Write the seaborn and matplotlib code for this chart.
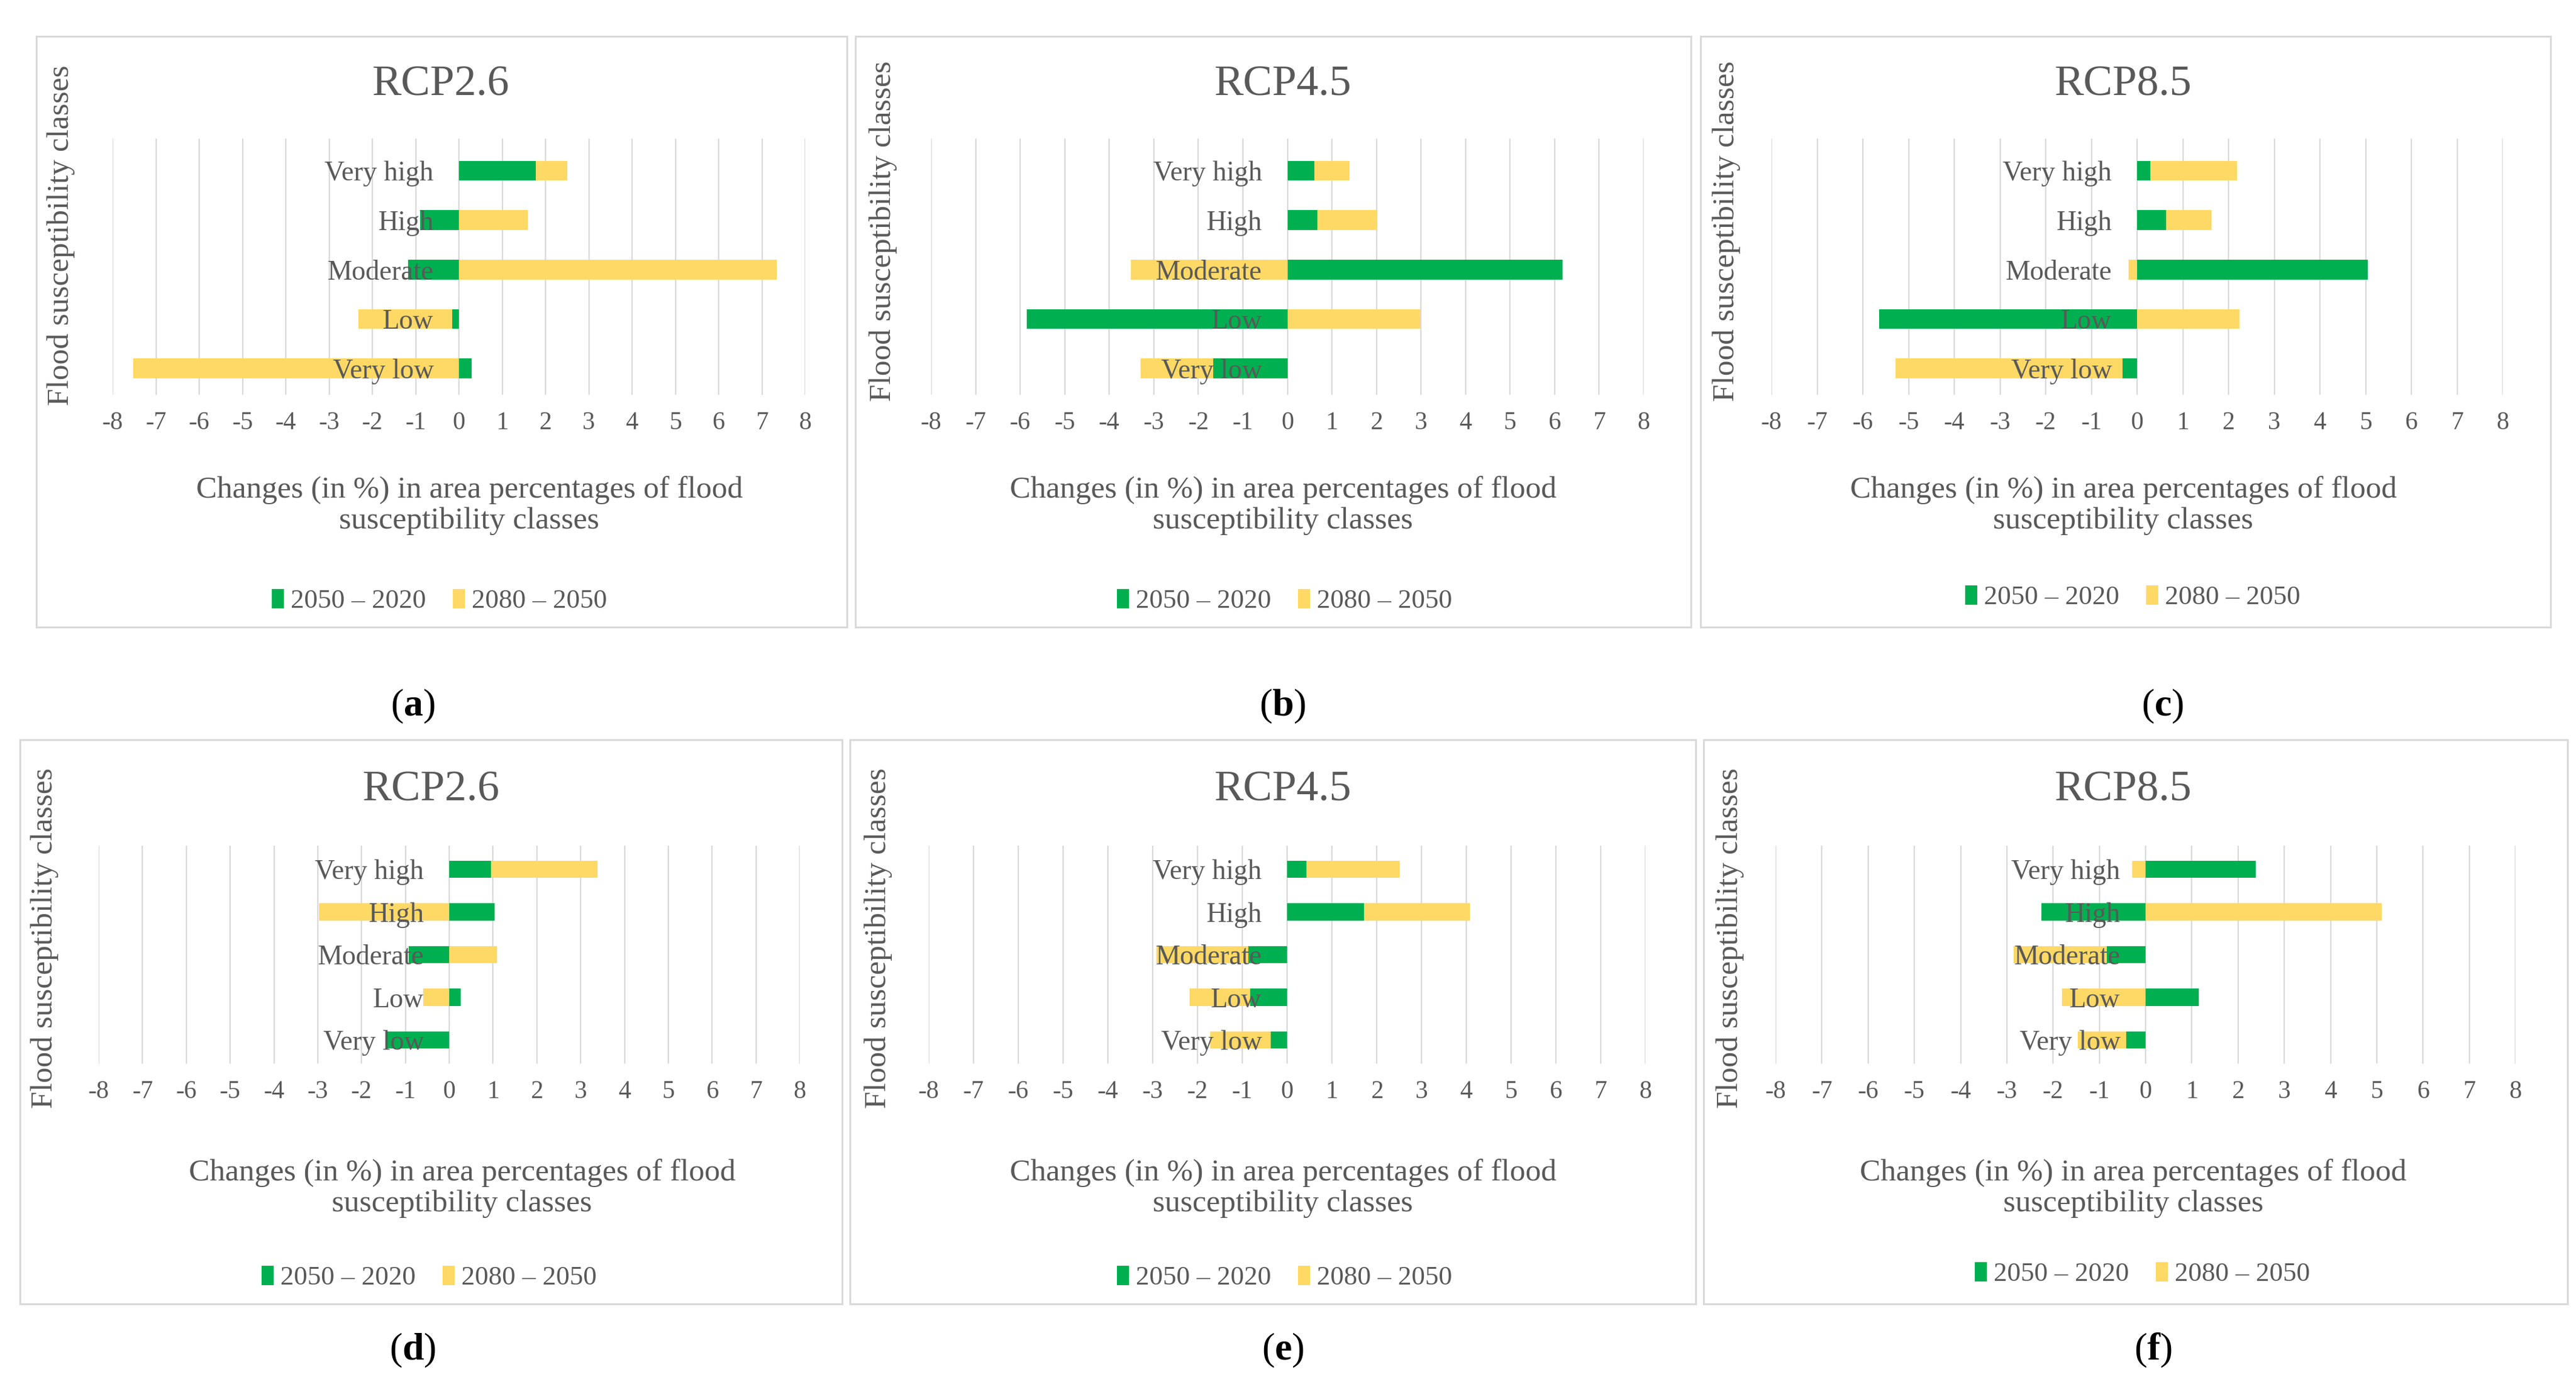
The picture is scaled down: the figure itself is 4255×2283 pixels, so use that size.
import numpy as np
import pandas as pd
import matplotlib
matplotlib.use("Agg")
import matplotlib.pyplot as plt
from matplotlib.patches import Rectangle, Patch
import seaborn as sns

# ---------------- data ----------------
classes = ["Very high", "High", "Moderate", "Low", "Very low"]
series_names = ["2050 – 2020", "2080 – 2050"]
titles = ["RCP2.6", "RCP4.5", "RCP8.5", "RCP2.6", "RCP4.5", "RCP8.5"]
panel_letters = ["a", "b", "c", "d", "e", "f"]
x_ticks = list(range(-8, 9))
x_label = "Changes (in %) in area percentages of flood\nsusceptibility classes"
y_label = "Flood susceptibility classes"

a_2050 = [1.78, -0.89, -1.17, -0.15, 0.29]
a_2080 = [0.73, 1.60, 7.34, -2.17, -7.52]
b_2050 = [0.61, 0.67, 6.18, -5.85, -1.67]
b_2080 = [0.79, 1.33, -3.52, 2.98, -1.63]
c_2050 = [0.29, 0.63, 5.05, -5.64, -0.32]
c_2080 = [1.90, 1.00, -0.19, 2.24, -4.97]
d_2050 = [0.96, 1.04, -0.92, 0.26, -1.41]
d_2080 = [2.43, -2.97, 1.09, -0.60, 0.00]
e_2050 = [0.43, 1.72, -0.86, -0.82, -0.37]
e_2080 = [2.09, 2.36, -2.06, -1.35, -1.34]
f_2050 = [2.38, -2.25, -0.84, 1.15, -0.42]
f_2080 = [-0.29, 5.10, -2.02, -1.81, -1.05]

green_vals = [a_2050, b_2050, c_2050, d_2050, e_2050, f_2050]
yellow_vals = [a_2080, b_2080, c_2080, d_2080, e_2080, f_2080]

# ---------------- style ----------------
GREEN = "#00B050"
YELLOW = "#FFD966"
TEXT = "#595959"
GRID = "#D9D9D9"

sns.set_style("white")
plt.rcParams["font.family"] = ["Liberation Serif", "DejaVu Serif"]
plt.rcParams["mathtext.fontset"] = "custom"
plt.rcParams["mathtext.rm"] = "Liberation Serif"
plt.rcParams["mathtext.bf"] = "Liberation Serif:bold"

W, H = 4255, 2283
fig = plt.figure(figsize=(W / 100, H / 100), dpi=100)
fig.patch.set_facecolor("white")

def fx(px):
    return px / W

def fy(py):
    return 1 - py / H

TOP = dict(yt=229, yb=652, lim=(4.53, -0.65))
BOT = dict(yt=1397, yb=1757, lim=(4.55, -0.55))

layout = [
    dict(x0=186, x1=1330, box=(60, 60, 1399, 1036), title=(728, 140),
         xl=(775, 835), leg=(726, 993), yl=(101, 389), letter=(682, 1167), **TOP),
    dict(x0=1538, x1=2715, box=(1413, 60, 2793, 1036), title=(2119, 140),
         xl=(2119, 835), leg=(2122, 993), yl=(1459, 382), letter=(2119, 1167), **TOP),
    dict(x0=2926, x1=4134, box=(2809, 60, 4213, 1036), title=(3507, 140),
         xl=(3507, 835), leg=(3523, 987), yl=(2852, 382), letter=(3572, 1167), **TOP),
    dict(x0=163, x1=1321, box=(33, 1222, 1391, 2154), title=(712, 1305),
         xl=(763, 1963), leg=(709, 2111), yl=(74, 1550), letter=(682, 2231), **BOT),
    dict(x0=1534, x1=2718, box=(1404, 1222, 2801, 2154), title=(2119, 1305),
         xl=(2119, 1963), leg=(2122, 2111), yl=(1451, 1550), letter=(2119, 2231), **BOT),
    dict(x0=2933, x1=4155, box=(2814, 1222, 4241, 2154), title=(3507, 1305),
         xl=(3524, 1963), leg=(3539, 2105), yl=(2858, 1550), letter=(3556, 2231), **BOT),
]

for i, L in enumerate(layout):
    # panel frame
    bx0, by0, bx1, by1 = L["box"]
    fig.patches.append(Rectangle((fx(bx0), fy(by1)), fx(bx1 - bx0), (by1 - by0) / H,
                                 transform=fig.transFigure, fill=False,
                                 edgecolor=GRID, linewidth=2.2, zorder=0))

    ax = fig.add_axes([fx(L["x0"]), fy(L["yb"]), fx(L["x1"] - L["x0"]), (L["yb"] - L["yt"]) / H])
    ax.set_facecolor("none")

    g = np.array(green_vals[i], dtype=float)
    y = np.array(yellow_vals[i], dtype=float)
    # stacked (diverging) extent of the yellow segment, drawn beneath the green one
    y_extent = np.where(g * y > 0, g + y, y)

    df = pd.DataFrame({"cls": classes, "green": g, "yellow": y_extent})
    sns.barplot(data=df, x="yellow", y="cls", order=classes, color=YELLOW,
                saturation=1, width=0.4, errorbar=None, ax=ax, orient="h")
    sns.barplot(data=df, x="green", y="cls", order=classes, color=GREEN,
                saturation=1, width=0.4, errorbar=None, ax=ax, orient="h")
    for p in ax.patches:
        p.set_edgecolor("none")
        p.set_linewidth(0)

    ax.set_xlim(-8, 8)
    ax.set_ylim(*L["lim"])
    ax.set_xticks(x_ticks)
    ax.set_xticklabels([str(t) for t in x_ticks])
    ax.set_xlabel("")
    ax.set_ylabel("")
    for s in ax.spines.values():
        s.set_visible(False)
    ax.spines["left"].set_position(("data", 0))
    ax.xaxis.grid(True, color=GRID, linewidth=1.6)
    ax.yaxis.grid(False)
    ax.set_axisbelow(True)
    ax.yaxis.set_zorder(3)
    ax.tick_params(axis="x", length=0, pad=20, labelsize=30, labelcolor=TEXT)
    ax.tick_params(axis="y", length=0, pad=30, labelsize=33, labelcolor=TEXT)

    # texts
    fig.text(fx(L["title"][0]), fy(L["title"][1]), titles[i], ha="center", va="center",
             fontsize=52, color=TEXT)
    fig.text(fx(L["xl"][0]), fy(L["xl"][1]), x_label, ha="center", va="center",
             fontsize=37, color=TEXT, linespacing=1.1)
    fig.text(fx(L["yl"][0]), fy(L["yl"][1]), y_label, ha="center", va="center",
             rotation=90, fontsize=37, color=TEXT)
    fig.text(fx(L["letter"][0]), fy(L["letter"][1]),
             r"($\mathbf{" + panel_letters[i] + r"}$)", ha="center", va="center",
             fontsize=46, color="black")

    handles = [Patch(facecolor=GREEN, edgecolor="none"), Patch(facecolor=YELLOW, edgecolor="none")]
    fig.legend(handles, series_names, loc="center",
               bbox_to_anchor=(fx(L["leg"][0]), fy(L["leg"][1])),
               bbox_transform=fig.transFigure, ncol=2, frameon=False,
               fontsize=32, labelcolor=TEXT, handlelength=0.45, handleheight=0.75,
               handletextpad=0.25, columnspacing=1.0)

fig.savefig("out.png", dpi=100, facecolor="white")
